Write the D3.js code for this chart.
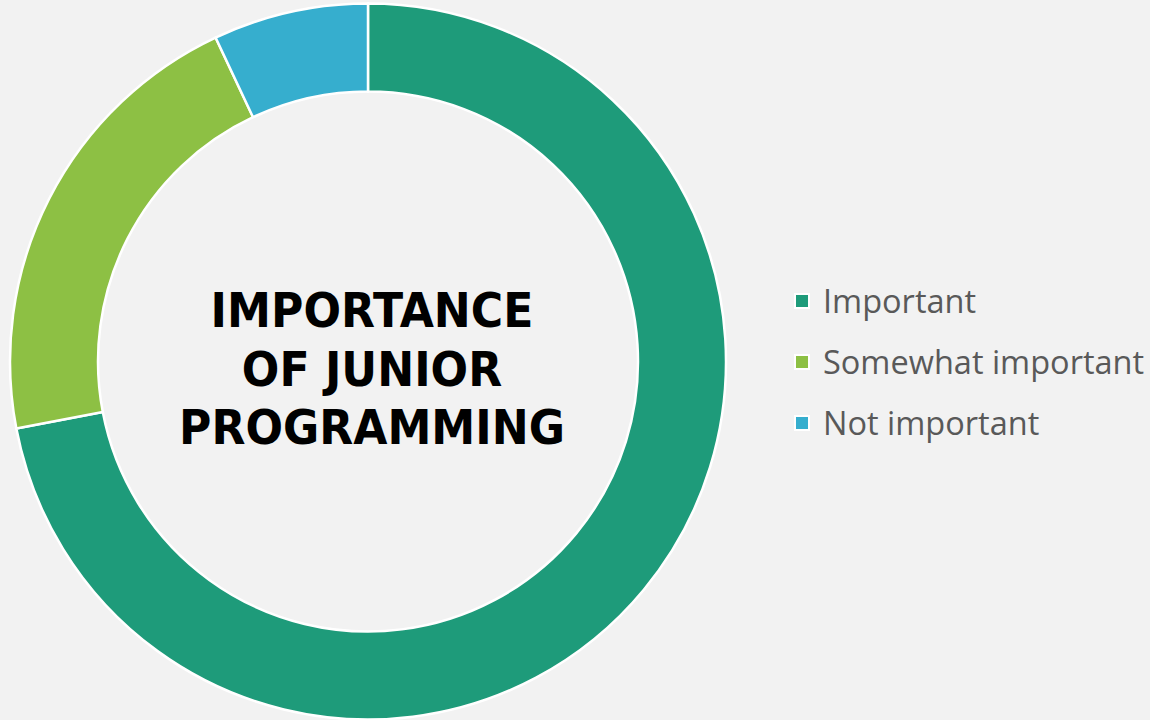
<!DOCTYPE html>
<html><head><meta charset="utf-8">
<script src="https://cdn.jsdelivr.net/npm/d3@7"></script>
<style>html,body{margin:0;padding:0;background:#F2F2F2;}</style>
</head><body>
<svg id="chart" width="1150" height="720"></svg>
<script>
const categories = ["Important", "Somewhat important", "Not important"];
const values = [72, 21, 7];
const colors = ["#1E9B7A", "#8DC044", "#36AECE"];
const titleLines = ["IMPORTANCE", "OF JUNIOR", "PROGRAMMING"];

const svg = d3.select("#chart");
svg.append("rect").attr("width",1150).attr("height",720).attr("fill","#F2F2F2");

const cx = 368, cy = 361.5, outerR = 358, innerR = 270;
const color = d3.scaleOrdinal().domain(categories).range(colors);
const pie = d3.pie().sort(null).value(d => d.v);
const arc = d3.arc().innerRadius(innerR).outerRadius(outerR);
const data = categories.map((c,i) => ({c, v: values[i]}));

const g = svg.append("g").attr("transform", `translate(${cx},${cy})`);
g.selectAll("path").data(pie(data)).join("path")
  .attr("d", arc)
  .attr("fill", d => color(d.data.c))
  .attr("stroke", "#FFFFFF")
  .attr("stroke-width", 2.5)
  .attr("stroke-linejoin", "miter");

const tg = g.append("g").attr("transform","translate(4,0) scale(0.93,1)");
tg.selectAll("text.title").data(titleLines).join("text")
  .attr("class","title")
  .attr("x", 0)
  .attr("y", (d,i) => -51 + i*58.5)
  .attr("text-anchor","middle")
  .attr("dominant-baseline","central")
  .attr("font-family","'DejaVu Sans', Verdana, sans-serif")
  .attr("font-weight","bold")
  .attr("font-size", 47.5)
  .attr("fill","#000")
  .text(d => d);

const leg = svg.append("g");
const rows = leg.selectAll("g").data(categories).join("g")
  .attr("transform", (d,i) => `translate(795, ${301 + i*61})`);
rows.append("rect").attr("x",0).attr("y",-7).attr("width",14).attr("height",14)
  .attr("fill", d => color(d)).attr("stroke","#FFFFFF").attr("stroke-width",2);
rows.append("text").attr("x",28).attr("y",-1)
  .attr("dominant-baseline","central")
  .attr("font-family","'Open Sans', 'Noto Sans', sans-serif")
  .attr("font-size",32.5)
  .attr("fill","#595959")
  .text(d => d);
</script>
</body></html>
